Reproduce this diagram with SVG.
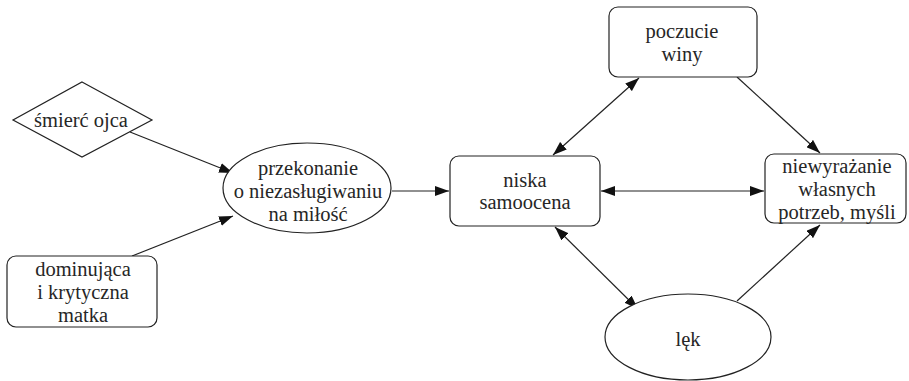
<svg xmlns="http://www.w3.org/2000/svg" width="909" height="381" viewBox="0 0 909 381">
  <style>
    .shape { fill: #ffffff; stroke: #222222; stroke-width: 1.2; }
    .label { font-family: 'Liberation Serif', 'Times New Roman', serif; font-size: 20.5px; fill: #262626; text-anchor: middle; }
    .edge { fill: none; stroke: #222222; stroke-width: 1.2; }
  </style>
  <defs>
    <marker id="head" viewBox="0 0 14 10" refX="14" refY="5" markerWidth="14" markerHeight="10" markerUnits="userSpaceOnUse" orient="auto-start-reverse">
      <path d="M0,0 L14,5 L0,10 Z" fill="#111111"/>
    </marker>
  </defs>

  <rect width="909" height="381" fill="#ffffff"/>

  <!-- connectors -->
  <g id="connectors">
    <line class="edge" x1="130" y1="132" x2="233" y2="173" marker-end="url(#head)"/>
    <line class="edge" x1="132" y1="256" x2="233" y2="216" marker-end="url(#head)"/>
    <line class="edge" x1="392" y1="191" x2="449" y2="191" marker-end="url(#head)"/>
    <line class="edge" x1="601" y1="191" x2="764" y2="191" marker-start="url(#head)" marker-end="url(#head)"/>
    <line class="edge" x1="553" y1="155" x2="639" y2="78" marker-start="url(#head)" marker-end="url(#head)"/>
    <line class="edge" x1="555" y1="227" x2="638" y2="309" marker-start="url(#head)" marker-end="url(#head)"/>
    <line class="edge" x1="737" y1="77" x2="820" y2="153" marker-end="url(#head)"/>
    <line class="edge" x1="737" y1="301" x2="820" y2="225" marker-end="url(#head)"/>
  </g>

  <!-- nodes -->
  <g id="smierc-ojca">
    <polygon class="shape" points="82,82 152,120 82,157 13,120"/>
    <text class="label" x="81" y="127">śmierć ojca</text>
  </g>

  <g id="dominujaca-matka">
    <rect class="shape" x="7" y="256" width="150" height="71" rx="9"/>
    <text class="label" x="83" y="276">dominująca</text>
    <text class="label" x="83" y="299">i krytyczna</text>
    <text class="label" x="83" y="322">matka</text>
  </g>

  <g id="przekonanie">
    <ellipse class="shape" cx="307" cy="188" rx="84" ry="45"/>
    <text class="label" x="308" y="175">przekonanie</text>
    <text class="label" x="308" y="198">o niezasługiwaniu</text>
    <text class="label" x="308" y="221">na miłość</text>
  </g>

  <g id="niska-samoocena">
    <rect class="shape" x="450" y="156" width="150" height="70" rx="9"/>
    <text class="label" x="525" y="187">niska</text>
    <text class="label" x="525" y="209">samoocena</text>
  </g>

  <g id="poczucie-winy">
    <rect class="shape" x="609" y="7" width="148" height="70" rx="9"/>
    <text class="label" x="682" y="38">poczucie</text>
    <text class="label" x="682" y="61">winy</text>
  </g>

  <g id="niewyrazanie">
    <rect class="shape" x="765" y="154" width="141" height="69" rx="9"/>
    <text class="label" x="837" y="173">niewyrażanie</text>
    <text class="label" x="837" y="196">własnych</text>
    <text class="label" x="837" y="219">potrzeb, myśli</text>
  </g>

  <g id="lek">
    <ellipse class="shape" cx="688" cy="337" rx="83" ry="43"/>
    <text class="label" x="688" y="346">lęk</text>
  </g>
</svg>
